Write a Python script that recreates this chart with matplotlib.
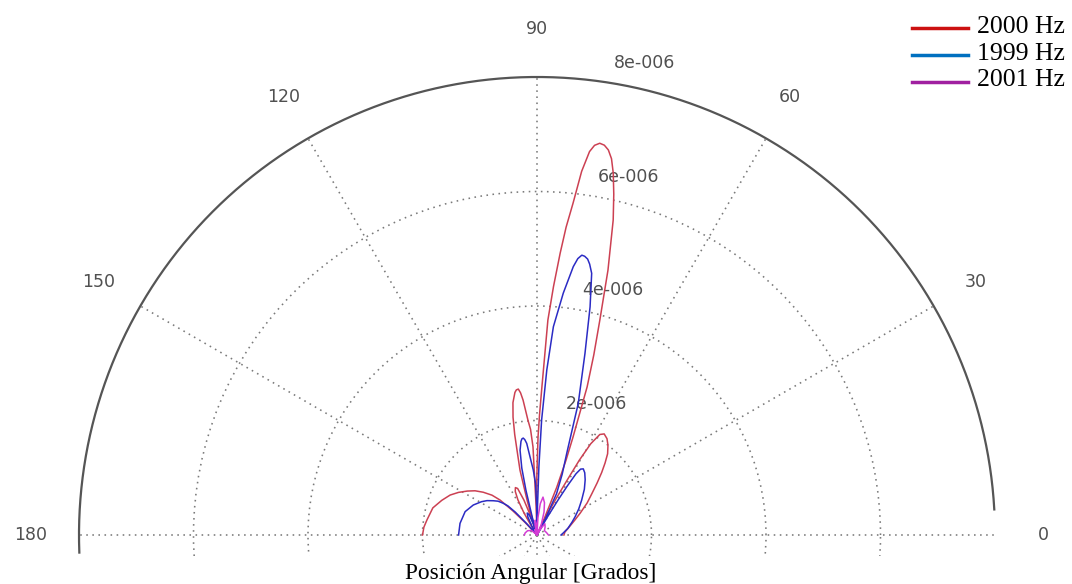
import numpy as np
import matplotlib
matplotlib.use("Agg")
import matplotlib.pyplot as plt
from matplotlib.lines import Line2D
from matplotlib.patches import Rectangle

# ---- data: (angle in degrees, amplitude in units of 1e-6) ----
series_labels = ["2000 Hz", "1999 Hz", "2001 Hz"]

curve_2000 = [
    (0, 0.47), (6, 0.49), (14, 0.58), (21.5, 0.71), (27, 0.85), (32.6, 1.04), (37, 1.2),
    (40.9, 1.39), (44, 1.57), (46.6, 1.73), (49, 1.88), (51.7, 2.0), (54, 2.08), (56.4, 2.12),
    (58, 2.07), (59.5, 1.85), (60.5, 1.5), (61.2, 1.1), (62.4, 0.7), (63.5, 0.35), (65, 0.0),
    (66, 0.3), (67.5, 0.9), (68.8, 1.4), (69.8, 1.82), (71.3, 2.73), (72.5, 3.3), (73.7, 3.91),
    (75, 4.79), (76.4, 5.66), (77.3, 6.1), (78.1, 6.46), (78.8, 6.7), (79.5, 6.84), (80.2, 6.91),
    (80.9, 6.93), (81.6, 6.88), (82.2, 6.76), (83, 6.4), (83.8, 5.83), (84.6, 5.4), (85.3, 4.94),
    (86.2, 4.35), (87.1, 3.76), (88.1, 2.59), (88.8, 2.1), (89.4, 1.71), (90.2, 1.0), (91.2, 0.0),
    (91.8, 0.5), (92.6, 1.54), (93.5, 1.85), (94.5, 2.01), (95.9, 2.37), (96.6, 2.5), (97.3, 2.57),
    (98.1, 2.56), (98.8, 2.52), (100.3, 2.35), (101.5, 2.1), (102.5, 1.8), (103.5, 1.45),
    (104.7, 1.17), (106, 0.6), (107, 0.0),
    (108.5, 0.35), (110.5, 0.65), (112.6, 0.88), (114.5, 0.91), (116.5, 0.85), (118.5, 0.7),
    (120.5, 0.45), (122, 0.2), (123.5, 0.0),
    (127, 0.06), (131, 0.0), (133.5, 0.3), (135, 0.6), (136.6, 0.89), (138.5, 1.05), (141.5, 1.2),
    (144.5, 1.33), (147.8, 1.44), (151.5, 1.56), (155.3, 1.67), (160, 1.77), (165.4, 1.88),
    (172.2, 1.94), (176, 1.98), (180, 2.0),
]

curve_1999 = [
    (0, 0.42), (4.4, 0.46), (12, 0.55), (20, 0.65), (25.7, 0.74), (32, 0.86), (38, 0.99),
    (44, 1.15), (48.9, 1.28), (52.5, 1.37), (55, 1.41), (56.5, 1.38), (57.5, 1.27), (58.3, 1.0),
    (59, 0.7), (60, 0.35), (61, 0.0),
    (62.5, 0.3), (64.7, 0.8), (67.5, 1.15), (70, 1.52), (72.6, 2.41), (75.2, 3.28), (76.9, 4.09),
    (78.2, 4.67), (79, 4.82), (79.6, 4.9), (80.3, 4.94), (80.9, 4.95), (81.6, 4.88), (82.3, 4.73),
    (83.8, 4.25), (85.5, 3.65), (86.6, 2.89), (87.7, 2.01), (88.4, 1.2), (89, 0.5), (89.8, 0.0),
    (90.6, 0.5), (91.6, 0.9), (93.3, 1.14), (95.1, 1.37), (96.4, 1.61), (97.3, 1.68), (98.1, 1.71),
    (98.9, 1.7), (99.7, 1.66), (101.3, 1.51), (102.8, 1.2), (103.9, 0.8), (105, 0.3), (106, 0.0),
    (108, 0.2), (111, 0.38), (114, 0.42), (117, 0.35), (120, 0.18), (123, 0.0),
    (131, 0.0), (132, 0.25), (133.5, 0.55), (135, 0.72), (136.8, 0.81), (139, 0.9), (141.9, 0.97),
    (145.5, 1.06), (149, 1.13), (154.8, 1.23), (162, 1.32), (171.4, 1.36), (180, 1.37),
]

curve_2001 = [
    (0, 0.2), (15, 0.17), (30, 0.15), (45, 0.2), (55, 0.24), (60, 0.12), (63, 0.0),
    (68, 0.2), (73, 0.42), (77, 0.58), (81, 0.67), (84, 0.55), (87, 0.3), (89.5, 0.0),
    (93, 0.18), (97, 0.26), (101, 0.18), (105, 0.0), (112, 0.1), (120, 0.0), (132, 0.0),
    (140, 0.12), (155, 0.18), (170, 0.21), (180, 0.22),
]

theta_ticks = [0, 30, 60, 90, 120, 150, 180]
r_ticks = [2e-6, 4e-6, 6e-6, 8e-6]
r_tick_labels = ["2e-006", "4e-006", "6e-006", "8e-006"]
r_max = 8e-6
unit = 1e-6

# ---- styling ----
plot_colors = ["#cc4052", "#2b2bc4", "#d43cd4"]
legend_colors = ["#cc1111", "#0070c0", "#a020a0"]

W, H = 1072, 584
cx, cy, R = 537, 535, 458

fig = plt.figure(figsize=(W / 100, H / 100), dpi=100)
fig.patch.set_facecolor("white")
ax = fig.add_axes([(cx - R) / W, (H - cy - R) / H, 2 * R / W, 2 * R / H], projection="polar")
ax.set_ylim(0, r_max)
ax.set_thetagrids(range(0, 360, 30), labels=[""] * 12)
ax.set_rgrids(r_ticks[:-1], labels=[""] * 3)
ax.grid(True, color="#7a7a7a", linestyle=(0, (1, 2.8)), linewidth=1.15)
ax.spines["polar"].set_visible(False)
ax.tick_params(length=0, pad=0)

# outer (solid) arc
arc_t = np.deg2rad(np.linspace(3.2, 182.2, 400))
ax.plot(arc_t, np.full_like(arc_t, r_max), color="#555555", lw=1.6, clip_on=False, zorder=3)

for curve, col in zip([curve_2000, curve_1999, curve_2001], plot_colors):
    th = np.deg2rad([p[0] for p in curve])
    rr = np.array([p[1] for p in curve]) * unit
    ax.plot(th, rr, color=col, lw=1.1, zorder=4)

for ang in theta_ticks:
    ax.text(np.deg2rad(ang), r_max * 1.105, str(ang), ha="center", va="center",
            fontsize=12.5, color="#505050", family="DejaVu Sans", clip_on=False)

for v, lab in zip(r_ticks, r_tick_labels):
    ax.annotate(lab, xy=(np.deg2rad(82), v), xytext=(13, 13), textcoords="offset pixels",
                ha="left", va="baseline", fontsize=12.5, color="#505050",
                family="DejaVu Sans", annotation_clip=False)

# white band: the original plot image is cropped just below the 0-180 line
fig.add_artist(Rectangle((0, 0), 1, (H - 556) / H, transform=fig.transFigure,
                         facecolor="white", edgecolor="none", zorder=1))

# legend (top right)
rows_text = [33, 60, 86]
rows_line = [28, 55, 82]
for lab, col, yt, yl in zip(series_labels, legend_colors, rows_text, rows_line):
    fig.add_artist(Line2D([912 / W, 968 / W], [1 - yl / H, 1 - yl / H], transform=fig.transFigure,
                          color=col, lw=2.5, zorder=2))
    fig.text(977 / W, 1 - yt / H, lab, ha="left", va="baseline", fontsize=18.5,
             family="Liberation Serif", color="black", zorder=3)

fig.text(531 / W, 1 - 573 / H, "Posición Angular [Grados]", ha="center", va="center",
         fontsize=16.8, family="Liberation Serif", color="black", zorder=3)

fig.savefig("out.png", dpi=100)
